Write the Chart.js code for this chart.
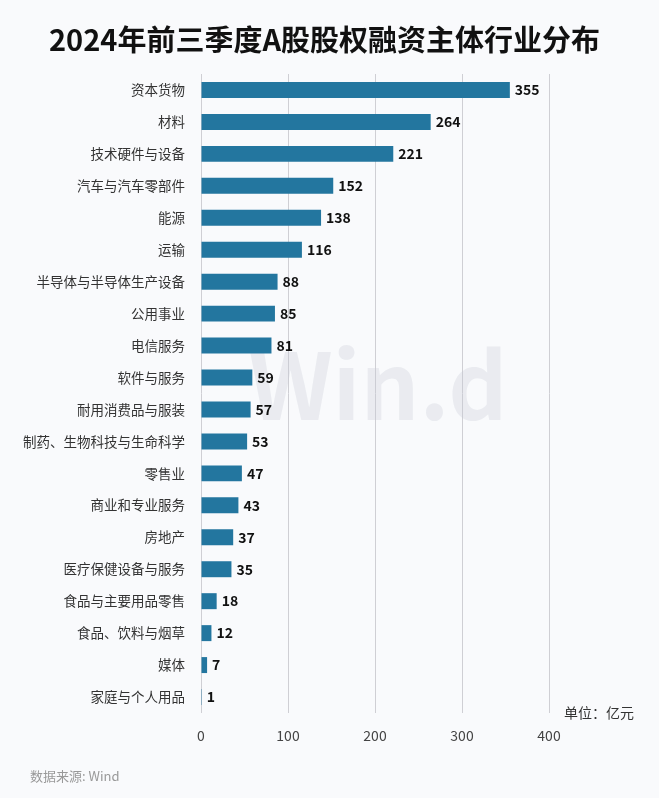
<!DOCTYPE html>
<html>
<head>
<meta charset="utf-8">
<script src="https://cdn.jsdelivr.net/npm/chart.js@4/dist/chart.umd.min.js"></script>
<style>
  html, body { margin: 0; padding: 0; background: #f9fafc; }
  #wrap { width: 659px; height: 798px; position: relative; }
</style>
</head>
<body>
<div id="wrap"><canvas id="chart" width="659" height="798"></canvas></div>
<script>
const FONT = '"Noto Sans CJK SC", "Noto Sans", sans-serif';

const industries = [
    '资本货物', '材料', '技术硬件与设备', '汽车与汽车零部件', '能源', '运输',
    '半导体与半导体生产设备', '公用事业', '电信服务', '软件与服务', '耐用消费品与服装',
    '制药、生物科技与生命科学', '零售业', '商业和专业服务', '房地产', '医疗保健设备与服务',
    '食品与主要用品零售', '食品、饮料与烟草', '媒体', '家庭与个人用品'
];
const amounts = [355, 264, 221, 152, 138, 116, 88, 85, 81, 59, 57, 53, 47, 43, 37, 35, 18, 12, 7, 1];
const xTicks = [0, 100, 200, 300, 400];

// title, watermark, footer and unit text
const extras = {
    id: 'extras',
    beforeDatasetsDraw(chart) {
        const { ctx, chartArea } = chart;
        ctx.save();
        ctx.font = 'bold 92px ' + FONT;
        ctx.fillStyle = 'rgba(200,203,212,0.3)';
        ctx.textAlign = 'center';
        ctx.textBaseline = 'middle';
        ctx.fillText('Win.d', (chartArea.left + chartArea.right) / 2 + 3, 385);
        ctx.restore();
    },
    afterDraw(chart) {
        const { ctx, chartArea } = chart;
        ctx.save();
        ctx.font = 'bold 29px ' + FONT;
        ctx.fillStyle = '#111';
        ctx.textAlign = 'center';
        ctx.textBaseline = 'middle';
        ctx.fillText('2024年前三季度A股股权融资主体行业分布', chart.width / 2 - 5, 40);
        ctx.textAlign = 'left';
        ctx.font = '14px ' + FONT;
        ctx.fillStyle = '#333';
        ctx.fillText('单位：亿元', 564, chartArea.bottom);
        ctx.font = '13px ' + FONT;
        ctx.fillStyle = '#999';
        ctx.fillText('数据来源: Wind', 30, 776);
        ctx.restore();
    }
};

// value labels at bar ends
const valueLabels = {
    id: 'valueLabels',
    afterDatasetsDraw(chart) {
        const { ctx } = chart;
        const meta = chart.getDatasetMeta(0);
        ctx.save();
        ctx.font = 'bold 14px ' + FONT;
        ctx.fillStyle = '#111';
        ctx.textBaseline = 'middle';
        meta.data.forEach((bar, i) => {
            ctx.fillText(String(amounts[i]), bar.x + 5, bar.y);
        });
        ctx.restore();
    }
};

new Chart(document.getElementById('chart'), {
    type: 'bar',
    data: {
        labels: industries,
        datasets: [{
            data: amounts,
            backgroundColor: '#23769f',
            barPercentage: 1,
            categoryPercentage: 0.5
        }]
    },
    options: {
        indexAxis: 'y',
        responsive: false,
        animation: false,
        layout: { padding: { left: 0, right: 110, top: 74, bottom: 45 } },
        plugins: {
            legend: { display: false },
            tooltip: { enabled: false }
        },
        scales: {
            x: {
                min: 0,
                max: 400,
                afterBuildTicks: scale => { scale.ticks = xTicks.map(v => ({ value: v })); },
                afterFit: scale => { scale.height = 40; },
                border: { display: false },
                grid: { color: '#cfcfd4', drawTicks: false },
                ticks: { color: '#444', padding: 14, font: { family: FONT, size: 14 } }
            },
            y: {
                afterFit: scale => { scale.width = 201; },
                border: { display: false },
                grid: { display: false, drawTicks: false },
                ticks: { color: '#333', padding: 16, font: { family: FONT, size: 13.5 } }
            }
        }
    },
    plugins: [extras, valueLabels]
});
</script>
</body>
</html>
